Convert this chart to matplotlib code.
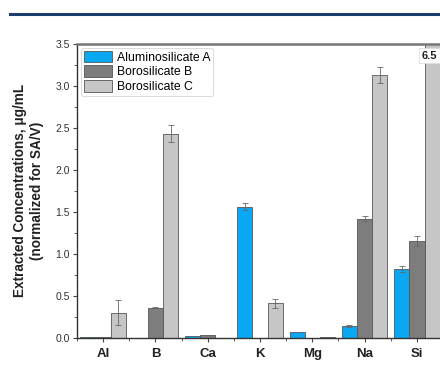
import matplotlib
matplotlib.use("Agg")
import matplotlib.pyplot as plt
import numpy as np
from matplotlib.lines import Line2D
from matplotlib.ticker import MultipleLocator

plt.rcParams['font.family'] = ['Liberation Sans', 'DejaVu Sans']

elements = ["Al", "B", "Ca", "K", "Mg", "Na", "Si"]
series_names = ["Aluminosilicate A", "Borosilicate B", "Borosilicate C"]
alumino_a = [0.01, 0.0, 0.02, 1.56, 0.07, 0.14, 0.82]
alumino_a_err = [0.0, 0.0, 0.0, 0.04, 0.0, 0.01, 0.04]
boro_b = [0.01, 0.36, 0.03, 0.0, 0.0, 1.42, 1.15]
boro_b_err = [0.0, 0.01, 0.0, 0.0, 0.0, 0.03, 0.06]
boro_c = [0.30, 2.43, 0.0, 0.41, 0.01, 3.13, 6.5]
boro_c_err = [0.15, 0.10, 0.0, 0.05, 0.0, 0.10, 0.0]
offscale_label = "6.5"

colors = ["#0aa8f2", "#7d7d7d", "#c6c6c6"]

fig = plt.figure(figsize=(4.4, 3.75), dpi=100)
# top rule
fig.add_artist(Line2D([0.023, 1.0], [0.962, 0.962], color="#1d3c6e", lw=2.2, transform=fig.transFigure))

ax = fig.add_axes([0.175, 0.099, 0.832, 0.784])
x = np.arange(len(elements))
w = 0.29
data = [(alumino_a, alumino_a_err), (boro_b, boro_b_err), (boro_c, boro_c_err)]
for i, ((vals, errs), c, name) in enumerate(zip(data, colors, series_names)):
    pos = x + (i - 1) * w
    ax.bar(pos, vals, width=w, color=c, edgecolor="#555555", linewidth=0.6, label=name, zorder=2)
    errs_arr = np.array(errs)
    mask = errs_arr > 0
    ax.errorbar(pos[mask], np.array(vals)[mask], yerr=errs_arr[mask], fmt="none",
                ecolor="#666666", elinewidth=0.6, capsize=2, capthick=0.6, zorder=3)

ax.set_xlim(-0.5, len(elements) - 0.5)
ax.set_ylim(0, 3.5)
ax.set_xticks(x)
ax.set_xticklabels(elements, fontsize=9.5, fontweight="bold", color="#222222")
ax.xaxis.set_minor_locator(MultipleLocator(1, offset=0.5))
ax.yaxis.set_major_locator(MultipleLocator(0.5))
ax.yaxis.set_minor_locator(MultipleLocator(0.25))
ax.set_yticklabels([f"{v:.1f}" for v in ax.get_yticks()], fontsize=7.5, color="#333333")
ax.tick_params(axis="both", which="both", direction="out", color="#444444")
ax.tick_params(axis="y", which="major", length=3, width=0.8, pad=2)
ax.tick_params(axis="y", which="minor", length=2, width=0.6)
ax.tick_params(axis="x", which="major", length=3, width=0.8, pad=4)
ax.tick_params(axis="x", which="minor", length=2, width=0.6)
for s in ["left", "bottom"]:
    ax.spines[s].set_color("#333333")
    ax.spines[s].set_linewidth(1.0)
ax.spines["top"].set_color("#777777")
ax.spines["top"].set_linewidth(1.8)
ax.spines["right"].set_color("#777777")
ax.spines["right"].set_linewidth(1.8)

ax.set_ylabel("Extracted Concentrations, \u03bcg/mL\n(normalized for SA/V)", fontsize=9.8,
              fontweight="bold", color="#222222", linespacing=1.3)
ax.yaxis.set_label_coords(-0.09, 0.5)

ax.text(x[-1] + w * 0.85, 3.36, offscale_label, fontsize=8, fontweight="bold", color="#222222",
        ha="center", va="center", zorder=5,
        bbox=dict(boxstyle="square,pad=0.25", fc="white", ec="#dddddd", lw=0.6))

leg = ax.legend(loc="upper left", prop={"size": 8.8}, frameon=True, fancybox=True, borderpad=0.25,
                labelspacing=0.15, handlelength=2.3, handleheight=1.1, handletextpad=0.4,
                borderaxespad=0.3, edgecolor="#cccccc")
leg.get_frame().set_linewidth(0.6)

fig.savefig("out.png", dpi=100)
